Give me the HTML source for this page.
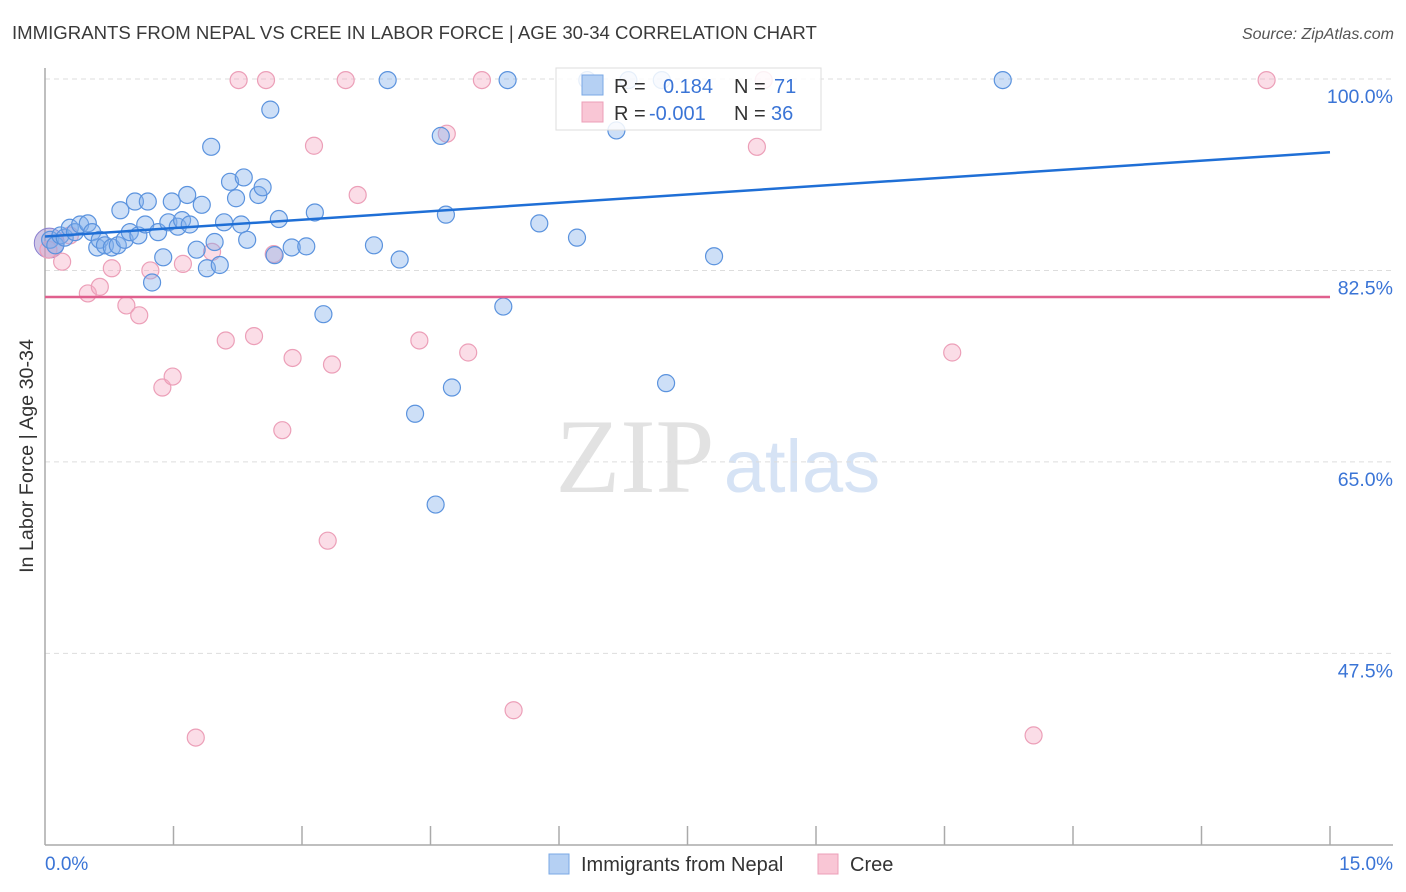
<!DOCTYPE html>
<html><head><meta charset="utf-8"><style>
body{margin:0;background:#fff;font-family:"Liberation Sans",sans-serif;}
#wrap{position:relative;width:1406px;height:892px;overflow:hidden;}
</style></head><body>
<div id="wrap">
<svg id="chart" width="1406" height="892">
<text x="12" y="39" font-size="18.6" fill="#3a3a3a">IMMIGRANTS FROM NEPAL VS CREE IN LABOR FORCE | AGE 30-34 CORRELATION CHART</text>
<text x="1394" y="39" font-size="16" fill="#555" text-anchor="end" font-style="italic">Source: ZipAtlas.com</text>
<text x="635" y="492" font-size="106" fill="#e2e2e2" text-anchor="middle" font-family="Liberation Serif,serif">ZIP</text>
<text x="802" y="492" font-size="74" fill="#d6e3f5" text-anchor="middle">atlas</text>
<g id="grid"></g>
<line x1="45" y1="68" x2="45" y2="845" stroke="#aaa" stroke-width="1.5"/>
<line x1="45" y1="845" x2="1393" y2="845" stroke="#aaa" stroke-width="1.5"/>
<g id="xticks"></g>
<text x="33" y="456" font-size="19.7" fill="#333" text-anchor="middle" transform="rotate(-90 33 456)">In Labor Force | Age 30-34</text>
<text x="45" y="870" font-size="19" fill="#3a74d6">0.0%</text>
<text x="1393" y="870" font-size="19" fill="#3a74d6" text-anchor="end">15.0%</text>
<g id="points"></g>
<g id="trends"></g>
<g>
<rect x="556" y="68" width="265" height="62" fill="#fff" fill-opacity="0.85" stroke="#ddd"/>
<rect x="582" y="75" width="21" height="20" fill="#b5d0f3" stroke="#7aa8e6"/>
<rect x="582" y="102" width="21" height="20" fill="#f9c6d5" stroke="#ec9fb8"/>
<text x="614" y="93" font-size="20" fill="#333">R = <tspan x="663" fill="#3a74d6">0.184</tspan><tspan x="734" fill="#333">N = </tspan><tspan x="774" fill="#3a74d6">71</tspan></text>
<text x="614" y="120" font-size="20" fill="#333">R = <tspan x="649" fill="#3a74d6">-0.001</tspan><tspan x="734" fill="#333">N = </tspan><tspan x="771" fill="#3a74d6">36</tspan></text>
</g>
<g>
<rect x="549" y="854" width="20" height="20" fill="#b5d0f3" stroke="#7aa8e6"/>
<text x="581" y="871" font-size="20" fill="#333">Immigrants from Nepal</text>
<rect x="818" y="854" width="20" height="20" fill="#f9c6d5" stroke="#ec9fb8"/>
<text x="850" y="871" font-size="20" fill="#333">Cree</text>
</g>
</svg>
</div>
<script>
const yTicks=[100,82.5,65,47.5];
const yTickLabels=["100.0%","82.5%","65.0%","47.5%"];
const xTicks=[1.5,3,4.5,6,7.5,9,10.5,12,13.5,15];
const nepalX=[0.06,0.12,0.18,0.23,0.29,0.35,0.41,0.50,0.55,0.61,0.64,0.70,0.78,0.85,0.88,0.93,0.99,1.05,1.09,1.17,1.20,1.25,1.32,1.38,1.44,1.48,1.55,1.60,1.66,1.69,1.77,1.83,1.89,1.94,1.98,2.04,2.09,2.16,2.23,2.29,2.32,2.36,2.49,2.54,2.63,2.73,2.68,2.88,3.05,3.15,3.25,3.84,4.14,4.00,4.32,4.62,4.68,4.75,4.56,5.35,5.40,5.77,6.21,6.33,6.67,6.81,7.20,7.25,7.81,11.18];
const nepalY=[85.3,84.8,85.7,85.5,86.4,86.0,86.7,86.8,86.0,84.6,85.3,84.8,84.6,84.8,88.0,85.3,86.0,88.8,85.7,86.7,88.8,81.4,86.0,83.7,86.9,88.8,86.5,87.1,89.4,86.7,84.4,88.5,82.7,93.8,85.1,83.0,86.9,90.6,89.1,86.7,91.0,85.3,89.4,90.1,97.2,87.2,83.9,84.6,84.7,87.8,78.5,84.8,83.5,99.9,69.4,94.8,87.6,71.8,61.1,79.2,99.9,86.8,85.5,99.9,95.3,99.9,99.9,72.2,83.8,99.9];
const creeX=[0.04,0.20,0.29,0.50,0.64,0.78,0.95,1.10,1.23,1.37,1.49,1.61,1.76,1.95,2.11,2.26,2.44,2.58,2.67,2.77,2.89,3.14,3.30,3.35,3.51,3.65,4.37,4.69,4.94,5.10,5.47,8.31,8.39,10.59,11.54,14.26];
const creeY=[84.4,83.3,85.7,80.4,81.0,82.7,79.3,78.4,82.5,71.8,72.8,83.1,39.8,84.2,76.1,99.9,76.5,99.9,84.0,67.9,74.5,93.9,57.8,73.9,99.9,89.4,76.1,95.0,75.0,99.9,42.3,93.8,99.9,75.0,40.0,99.9];
const nepalTrend=[85.6,93.3];
const creeTrend=[80.07,80.07];
const NS="http://www.w3.org/2000/svg";
function sx(v){return 45+v*(1285/15);}
function sy(v){return 79+(100-v)*10.94;}
function mk(tag,attrs,parent){const e=document.createElementNS(NS,tag);for(const k in attrs)e.setAttribute(k,attrs[k]);parent.appendChild(e);return e;}
const grid=document.getElementById('grid');
yTicks.forEach((t,i)=>{
 const l=mk('line',{x1:45,x2:1393,y1:sy(t),y2:sy(t),stroke:'#ddd','stroke-dasharray':'5,4'},grid);
 
 
 const tx=mk('text',{x:1393,y:sy(t)+24,'font-size':19.5,fill:'#3a74d6','text-anchor':'end'},grid);
 tx.textContent=yTickLabels[i];
 
 
});
const xt=document.getElementById('xticks');
xTicks.forEach(t=>{
 const l=mk('line',{x1:sx(t),x2:sx(t),y1:826,y2:845,stroke:'#aaa','stroke-width':1.5},xt);
 
 
});
const pts=document.getElementById('points');
const big=mk('circle',{cx:sx(0.05),cy:sy(85.0),r:15,fill:'rgba(150,130,200,0.45)',stroke:'#8a7fcf'},pts);


creeX.forEach((x,i)=>{
 const c=mk('circle',{cx:sx(x),cy:sy(creeY[i]),r:8.5,fill:'rgba(246,170,196,0.4)',stroke:'#ec9fb8','stroke-width':1.2},pts);
 
 
});
nepalX.forEach((x,i)=>{
 const c=mk('circle',{cx:sx(x),cy:sy(nepalY[i]),r:8.5,fill:'rgba(130,176,236,0.4)',stroke:'#5b93de','stroke-width':1.2},pts);
 
 
});
const tr=document.getElementById('trends');
const t1=mk('line',{x1:sx(0),y1:sy(nepalTrend[0]),x2:sx(15),y2:sy(nepalTrend[1]),stroke:'#1f6fd6','stroke-width':2.5},tr);


const t2=mk('line',{x1:sx(0),y1:sy(creeTrend[0]),x2:sx(15),y2:sy(creeTrend[1]),stroke:'#e0608e','stroke-width':2.5},tr);


</script>
</body></html>
